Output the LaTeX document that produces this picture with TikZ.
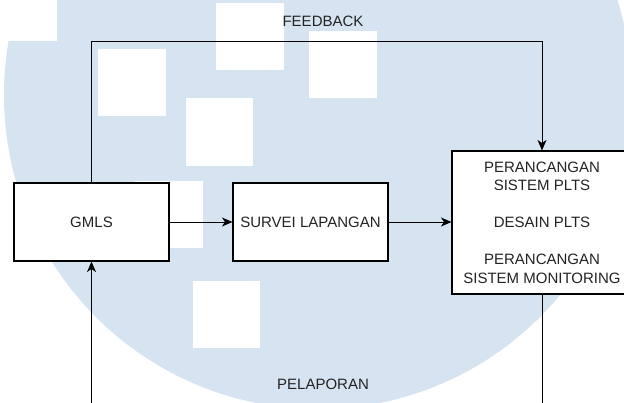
\documentclass[tikz,border=0pt]{standalone}
\usepackage{fontspec}
\setmainfont{Liberation Sans}
\usetikzlibrary{arrows.meta}
\definecolor{wm}{RGB}{214,228,241}
\definecolor{txt}{RGB}{35,35,35}
\begin{document}
\begin{tikzpicture}[x=1pt,y=-1pt,
  font=\fontsize{15}{18.5}\selectfont,
  box/.style={draw=black, line width=1.1pt, fill=white, minimum height=78pt,
              text=txt, align=center, inner sep=0pt},
  conn/.style={line width=1pt, -{Stealth[length=10.5pt,width=9pt,inset=3pt]}},
  lbl/.style={text=txt, inner sep=0pt},
  wsq/.style={fill=white}]
\clip (0,0) rectangle (624,402);
\fill[white] (0,0) rectangle (624,402);
% watermark
\fill[wm] (318,95) circle[radius=314pt];
\fill[wsq] (0,0) rectangle (57,41);
\fill[wsq] (216,3) rectangle (284,70);
\fill[wsq] (309,31) rectangle (377,98);
\fill[wsq] (186,98) rectangle (253,166);
\fill[wsq] (98,49) rectangle (166,116);
\fill[wsq] (135,181) rectangle (203,248);
\fill[wsq] (193,281) rectangle (260,348);
% nodes
\node[box, minimum width=155pt] (gmls) at (91.5,222) {GMLS};
\node[box, minimum width=155pt] (survei) at (310.5,222) {SURVEI LAPANGAN};
\node[box, minimum width=180pt, minimum height=143pt] (design) at (542,222.5)
  {PERANCANGAN\\SISTEM PLTS\\[18.5pt]DESAIN PLTS\\[18.5pt]PERANCANGAN\\SISTEM MONITORING};
\node[lbl] (fb) at (323,21) {FEEDBACK};
\node[lbl] (pl) at (323,384) {PELAPORAN};
\coordinate (top) at (91.5,41);
\coordinate (bl) at (91.5,420);
% connectors
\draw[conn] (gmls.east) -- (survei.west);
\draw[conn] (survei.east) -- (survei.east -| design.west);
\draw[conn] (gmls.north) -- (top) -| (design.north);
\draw[conn] (design.south) |- (bl) -- (gmls.south);
\end{tikzpicture}
\end{document}
